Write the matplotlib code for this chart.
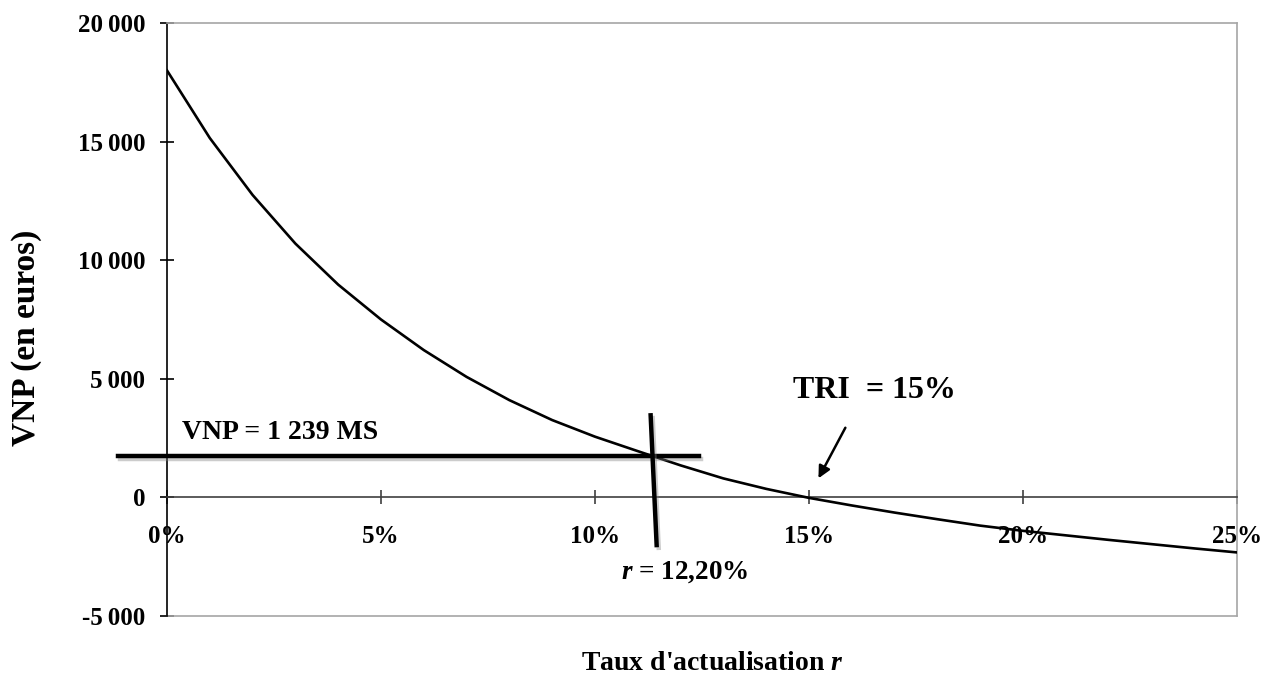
import numpy as np
import matplotlib
matplotlib.use("Agg")
import matplotlib.pyplot as plt
import matplotlib.patheffects as pe

plt.rcParams['font.family'] = ['Liberation Serif', 'DejaVu Serif']
plt.rcParams['font.weight'] = 'bold'
plt.rcParams['mathtext.fontset'] = 'custom'
plt.rcParams['mathtext.it'] = 'Liberation Serif:italic:bold'
plt.rcParams['mathtext.rm'] = 'Liberation Serif:bold'

# taux d'actualisation (%) et VNP (euros)
rates = list(range(0, 26))
vnp = [18000, 15150, 12750, 10700, 8970, 7500, 6210, 5080, 4100, 3260,
       2560, 1950, 1350, 800, 360, -20, -340, -640, -920, -1190,
       -1410, -1600, -1790, -1970, -2150, -2320]

xticks = [0, 5, 10, 15, 20, 25]
xtick_labels = ["0%", "5%", "10%", "15%", "20%", "25%"]
yticks = [-5000, 0, 5000, 10000, 15000, 20000]
ytick_labels = ["-5\u2009000", "0", "5\u2009000", "10\u2009000", "15\u2009000", "20\u2009000"]

# annotations
vnp_line_x = [-1.15, 12.42]
vnp_line_y = [1740, 1740]
r_line_x = [11.30, 11.44]
r_line_y = [3460, -2010]
tri_arrow_tail = (15.88, 3040)
tri_arrow_head = (15.19, 700)

fig = plt.figure(figsize=(12.63, 6.76), dpi=100)
ax = fig.add_axes([167/1263, 1-616/676, (1237-167)/1263, (616-23)/676])

ax.plot(rates, vnp, color='black', lw=1.9, zorder=3)

ax.set_xlim(0, 25)
ax.set_ylim(-5000, 20000)

ax.spines['bottom'].set_position(('data', 0))
ax.spines['bottom'].set_color('#404040')
ax.spines['bottom'].set_linewidth(1.2)
ax.spines['left'].set_color('black')
ax.spines['left'].set_linewidth(1.2)
for s in ['top', 'right']:
    ax.spines[s].set_color('#a6a6a6')
    ax.spines[s].set_linewidth(1.2)
ax.axhline(-5000, color='#a6a6a6', lw=1.2, clip_on=False)

ax.set_xticks(xticks)
ax.set_xticklabels(xtick_labels, fontsize=18, fontweight='bold')
ax.set_yticks(yticks)
ax.set_yticklabels(ytick_labels, fontsize=18, fontweight='bold')
ax.tick_params(axis='x', direction='inout', length=10, width=1.2, color='#404040', pad=15)
ax.tick_params(axis='y', direction='inout', length=10, width=1.2, color='black', pad=10.5)

shadow = [pe.SimpleLineShadow(offset=(1.5, -2), shadow_color='gray', alpha=0.4), pe.Normal()]
ax.plot(vnp_line_x, vnp_line_y, color='black', lw=3.2, clip_on=False,
        path_effects=shadow, zorder=4)
ax.plot(r_line_x, r_line_y, color='black', lw=3.2, clip_on=False,
        path_effects=shadow, zorder=4)

ax.text(0.34, 2480, "VNP = 1 239 MS", fontsize=20, fontweight='bold', va='baseline', ha='left')
ax.text(12.09, -3440, "$r$ = 12,20%", fontsize=19.5, fontweight='bold', va='baseline', ha='center')
ax.text(14.62, 4180, "TRI  = 15%", fontsize=23, fontweight='bold', va='baseline', ha='left')
ax.annotate("", xy=tri_arrow_head, xytext=tri_arrow_tail,
            arrowprops=dict(arrowstyle='-|>', color='black', lw=1.8, mutation_scale=18))

fig.text(27/1263, 1-338/676, "VNP (en euros)", rotation=90, fontsize=24,
         fontweight='bold', ha='center', va='center')
fig.text(712/1263, 1-670/676, "Taux d'actualisation $r$", fontsize=20,
         fontweight='bold', ha='center', va='baseline')

fig.savefig("out.png", dpi=100)
